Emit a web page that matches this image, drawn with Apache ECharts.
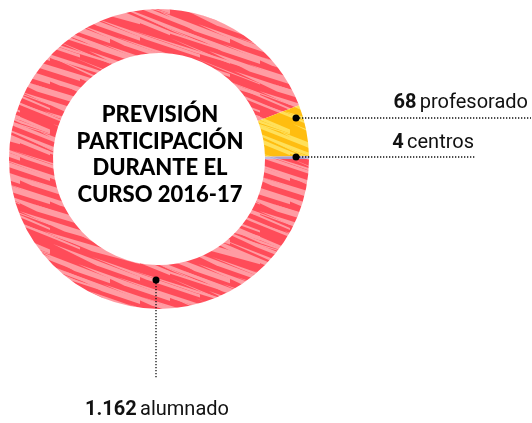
<!DOCTYPE html>
<html><head><meta charset="utf-8">
<script src="https://cdn.jsdelivr.net/npm/echarts@6/dist/echarts.min.js"></script>
<style>html,body{margin:0;padding:0;background:#fff}#c{width:532px;height:423px}</style>
</head><body><div id="c"></div>
<script>
const categories = ['alumnado', 'profesorado', 'centros'];
const values = [1162, 68, 4];
const valueLabels = ['1.162', '68', '4'];
const titleLines = ['PREVISIÓN', 'PARTICIPACIÓN', 'DURANTE EL', 'CURSO 2016-17'];

function makePattern(base, stripe) {
  const s = 120;
  const c = document.createElement('canvas');
  c.width = s; c.height = s;
  const g = c.getContext('2d');
  g.fillStyle = base; g.fillRect(0, 0, s, s);
  g.fillStyle = stripe;
  const n = 30;
  for (let i = 0; i < n; i++) {
    const y0 = (i * s / n) + ((i * 7) % 5) - 2;
    const x0 = (i * 53) % s;
    const len = 50 + (i * 37) % 90;
    const w = 1 + (i * 13) % 5;
    const slope = 0.32 + ((i * 11) % 7) * 0.02;
    for (let ox = -2; ox <= 1; ox++) for (let oy = -1; oy <= 1; oy++) {
      const ax = x0 + ox * s, ay = y0 + oy * s;
      const bx = ax + len, by = ay + len * slope;
      g.beginPath();
      g.moveTo(ax, ay);
      g.lineTo(bx, by - w * 0.5);
      g.lineTo(bx, by + w * 0.5);
      g.lineTo(ax + len * 0.5, ay + len * 0.5 * slope + w);
      g.closePath();
      g.fill();
    }
  }
  return { image: c, repeat: 'repeat' };
}

const colors = [
  makePattern('#ff4c59', '#ff9ca3'),
  makePattern('#ffbd10', '#ffe05a'),
  makePattern('#a89fd0', '#c4bde3')
];

const chart = echarts.init(document.getElementById('c'));
const dotted = { stroke: '#111', lineWidth: 1.3, lineDash: [1.3, 1.7] };
const txt = (x, y, num, word, align) => ({
  type: 'text', x: x, y: y,
  style: {
    text: '{b|' + num + '} {r|' + word + '}', align: align, verticalAlign: 'middle',
    rich: {
      b: { fontFamily: 'Roboto', fontWeight: 'bold', fontSize: 20, fill: '#111' },
      r: { fontFamily: 'Roboto', fontSize: 20, fill: '#111' }
    }
  }
});
chart.setOption({
  animation: false,
  series: [{
    type: 'pie', center: [159, 159], radius: [106, 150], startAngle: 0, clockwise: true,
    silent: true, label: { show: false }, labelLine: { show: false },
    data: categories.map((c, i) => ({ name: c, value: values[i], itemStyle: { color: colors[i] } }))
  }],
  graphic: [
    { type: 'text', x: 160, y: 155, style: { text: titleLines.join('\n'), align: 'center', verticalAlign: 'middle', fontFamily: 'Lato', fontWeight: 900, fontSize: 22, lineHeight: 26.5, fill: '#000' } },
    { type: 'line', shape: { x1: 296, y1: 118, x2: 531, y2: 118 }, style: dotted, z: 10 },
    { type: 'circle', shape: { cx: 296, cy: 118, r: 3.5 }, style: { fill: '#000' }, z: 11 },
    txt(528, 103, valueLabels[1], categories[1], 'right'),
    { type: 'line', shape: { x1: 296, y1: 157, x2: 476, y2: 157 }, style: dotted, z: 10 },
    { type: 'circle', shape: { cx: 296, cy: 157, r: 3.5 }, style: { fill: '#000' }, z: 11 },
    txt(474, 143, valueLabels[2], categories[2], 'right'),
    { type: 'line', shape: { x1: 156, y1: 280, x2: 156, y2: 378 }, style: dotted, z: 10 },
    { type: 'circle', shape: { cx: 156, cy: 280, r: 3.5 }, style: { fill: '#000' }, z: 11 },
    txt(157, 410, valueLabels[0], categories[0], 'center')
  ]
});
</script></body></html>
